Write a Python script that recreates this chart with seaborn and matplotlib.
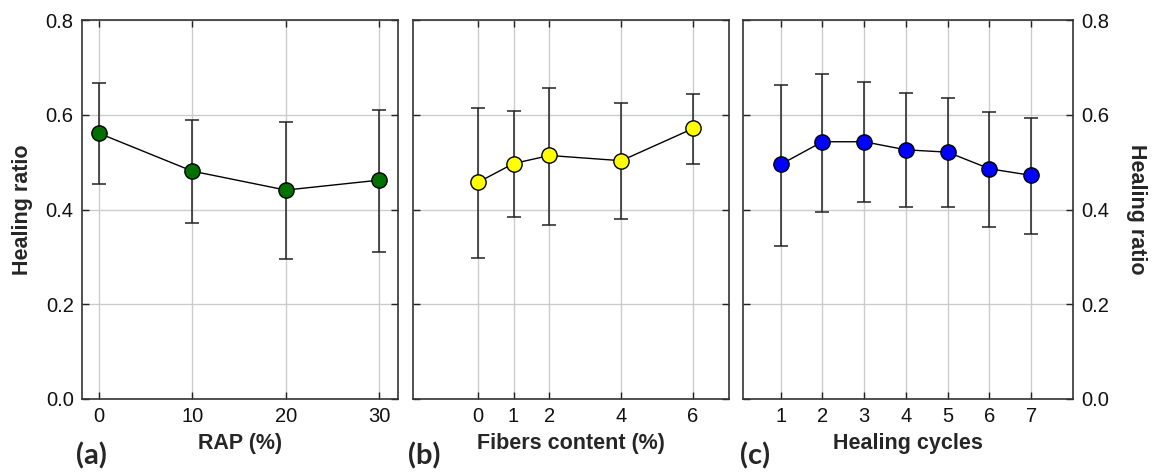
import numpy as np
import pandas as pd
import matplotlib
matplotlib.use("Agg")
import matplotlib.pyplot as plt
import seaborn as sns

# ---- data ----
rap_x = [0, 10, 20, 30]
rap_mean = [0.561, 0.481, 0.441, 0.462]
rap_low = [0.453, 0.372, 0.295, 0.310]
rap_high = [0.668, 0.588, 0.585, 0.610]

fib_x = [0, 1, 2, 4, 6]
fib_mean = [0.457, 0.497, 0.514, 0.503, 0.571]
fib_low = [0.298, 0.384, 0.367, 0.379, 0.496]
fib_high = [0.614, 0.607, 0.657, 0.625, 0.644]

cyc_x = [1, 2, 3, 4, 5, 6, 7]
cyc_mean = [0.495, 0.543, 0.543, 0.526, 0.521, 0.486, 0.472]
cyc_low = [0.324, 0.395, 0.415, 0.405, 0.405, 0.364, 0.349]
cyc_high = [0.663, 0.687, 0.670, 0.645, 0.636, 0.606, 0.594]

y_ticks = [0.0, 0.2, 0.4, 0.6, 0.8]
y_ticklabels = ["0.0", "0.2", "0.4", "0.6", "0.8"]

sns.set_theme(style="white")
plt.rcParams['font.family'] = ['Liberation Sans', 'DejaVu Sans']

fig = plt.figure(figsize=(11.56, 4.72), dpi=100)
bottom = 1 - 399 / 472
height = 379 / 472
ax_a = fig.add_axes([82 / 1156, bottom, 316 / 1156, height])
ax_b = fig.add_axes([413 / 1156, bottom, 316 / 1156, height])
ax_c = fig.add_axes([743 / 1156, bottom, 330 / 1156, height])

panels = [
    (ax_a, rap_x, rap_mean, rap_low, rap_high, "#007000", (-1.8, 32), "RAP (%)", "(a)"),
    (ax_b, fib_x, fib_mean, fib_low, fib_high, "#ffff00", (-1.8, 7), "Fibers content (%)", "(b)"),
    (ax_c, cyc_x, cyc_mean, cyc_low, cyc_high, "#0000ff", (0.1, 8), "Healing cycles", "(c)"),
]

for ax, x, m, lo, hi, col, xl, xlabel, tag in panels:
    m_arr = np.array(m)
    yerr = np.vstack([m_arr - np.array(lo), np.array(hi) - m_arr])
    ax.errorbar(x, m, yerr=yerr, fmt="none", ecolor="#222222", elinewidth=1.1,
                capsize=5, capthick=1.1, zorder=2)
    df = pd.DataFrame({"x": x, "y": m})
    sns.lineplot(data=df, x="x", y="y", ax=ax, color="black", linewidth=1.0,
                 marker="o", markersize=11, markerfacecolor=col,
                 markeredgecolor="black", markeredgewidth=1.0, zorder=3)
    ax.set_xlim(*xl)
    ax.set_ylim(0, 0.8)
    ax.set_xticks(x)
    ax.set_xticklabels([str(v) for v in x])
    ax.set_yticks(y_ticks)
    ax.grid(True, color="#cccccc", linewidth=1.0)
    ax.set_axisbelow(True)
    for s in ax.spines.values():
        s.set_color("#333333")
        s.set_linewidth(1.2)
        s.set_visible(True)
    ax.tick_params(axis="both", direction="in", length=5, width=1.0, color="#222222",
                   top=True, right=True, left=True, bottom=True,
                   labelsize=14.5, labelcolor="#111111", pad=6)
    ax.set_xlabel(xlabel, fontsize=15.5, fontweight="bold", labelpad=5)
    ax.set_ylabel("")

ax_a.set_yticklabels(y_ticklabels)
ax_a.set_ylabel("Healing ratio", fontsize=15.5, fontweight="bold", labelpad=9)
ax_b.set_yticklabels([])
ax_c.tick_params(axis="y", labelleft=False, labelright=True)
ax_c.set_yticklabels(y_ticklabels)
ax_c.yaxis.set_label_position("right")
ax_c.set_ylabel("Healing ratio", fontsize=15.5, fontweight="bold", labelpad=12, rotation=270, va="bottom")

tag_font = dict(fontsize=21, fontweight="bold", family=["Lato", "DejaVu Sans"], ha="center", va="center")
fig.text(91 / 1156, 1 - 456 / 472, "(a)", **tag_font)
fig.text(424 / 1156, 1 - 456 / 472, "(b)", **tag_font)
fig.text(755 / 1156, 1 - 456 / 472, "(c)", **tag_font)

fig.savefig("out.png", dpi=100, facecolor="white")
